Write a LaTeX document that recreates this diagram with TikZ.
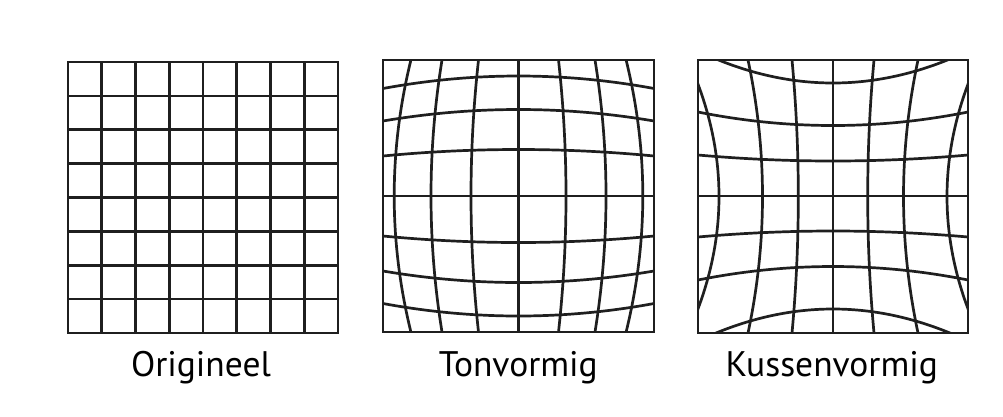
\documentclass[tikz,border=0pt]{standalone}
\usepackage{fontspec}
\setmainfont{PT Sans}
\newcommand\hcurv[6]{% x0, x1, cy, sign, c, e
  \draw[gl] (#1,{#3+(#4)*#6}) .. controls ({(2*#1+#2)/3},{#3+(#4)*(4*#5-#6)/3}) and ({(#1+2*#2)/3},{#3+(#4)*(4*#5-#6)/3}) .. (#2,{#3+(#4)*#6});}
\newcommand\vcurv[6]{% y0, y1, cx, sign, c, e
  \draw[gl] ({#3+(#4)*#6},#1) .. controls ({#3+(#4)*(4*#5-#6)/3},{(2*#1+#2)/3}) and ({#3+(#4)*(4*#5-#6)/3},{(#1+2*#2)/3}) .. ({#3+(#4)*#6},#2);}
\begin{document}
\begin{tikzpicture}[x=1pt,y=-1pt,
  gl/.style={line width=2.7pt, draw=black!88},
  fr/.style={line width=2.9pt, draw=black!88},
  lab/.style={font=\fontsize{35.5}{40}\selectfont, anchor=base, inner sep=0pt, text=black}]
\useasboundingbox (0,0) rectangle (1003,416);
% --- Origineel
\foreach \i in {1,...,7} {
  \draw[gl] ({68+\i*33.75},62) -- ({68+\i*33.75},333);
  \draw[gl] (68,{62+\i*33.875}) -- (338,{62+\i*33.875});
}
\draw[fr] (68,62) rectangle (338,333);
% --- Tonvormig
\begin{scope}
  \clip (383,60) rectangle (654,332);
  \draw[gl] (518.5,60) -- (518.5,332);
  \draw[gl] (383,196) -- (654,196);
  \foreach \c/\e in {46.5/40, 86.5/75, 120/107.5} {
    \hcurv{383}{654}{196}{-1}{\c}{\e}
    \hcurv{383}{654}{196}{1}{\c}{\e}
  }
  \foreach \c/\e in {47.5/40, 87.5/76.5, 124.3/107.6} {
    \vcurv{60}{332}{518.5}{-1}{\c}{\e}
    \vcurv{60}{332}{518.5}{1}{\c}{\e}
  }
\end{scope}
\draw[fr] (383,60) rectangle (654,332);
% --- Kussenvormig
\begin{scope}
  \clip (698,60) rectangle (968,333);
  \draw[gl] (833,60) -- (833,333);
  \draw[gl] (698,196) -- (968,196);
  \foreach \c/\e in {35/41, 70.5/84, 113/145} {
    \hcurv{698}{968}{196}{-1}{\c}{\e}
    \hcurv{698}{968}{196}{1}{\c}{\e}
  }
  \foreach \c/\e in {34.7/41, 70.5/85, 114/145} {
    \vcurv{60}{333}{833}{-1}{\c}{\e}
    \vcurv{60}{333}{833}{1}{\c}{\e}
  }
\end{scope}
\draw[fr] (698,60) rectangle (968,333);
% --- labels
\node[lab] (l1) at (201,376.5) {Origineel};
\node[lab] (l2) at (518.3,376.5) {Tonvormig};
\node[lab] (l3) at (831.7,376.5) {Kussenvormig};
\end{tikzpicture}
\end{document}
